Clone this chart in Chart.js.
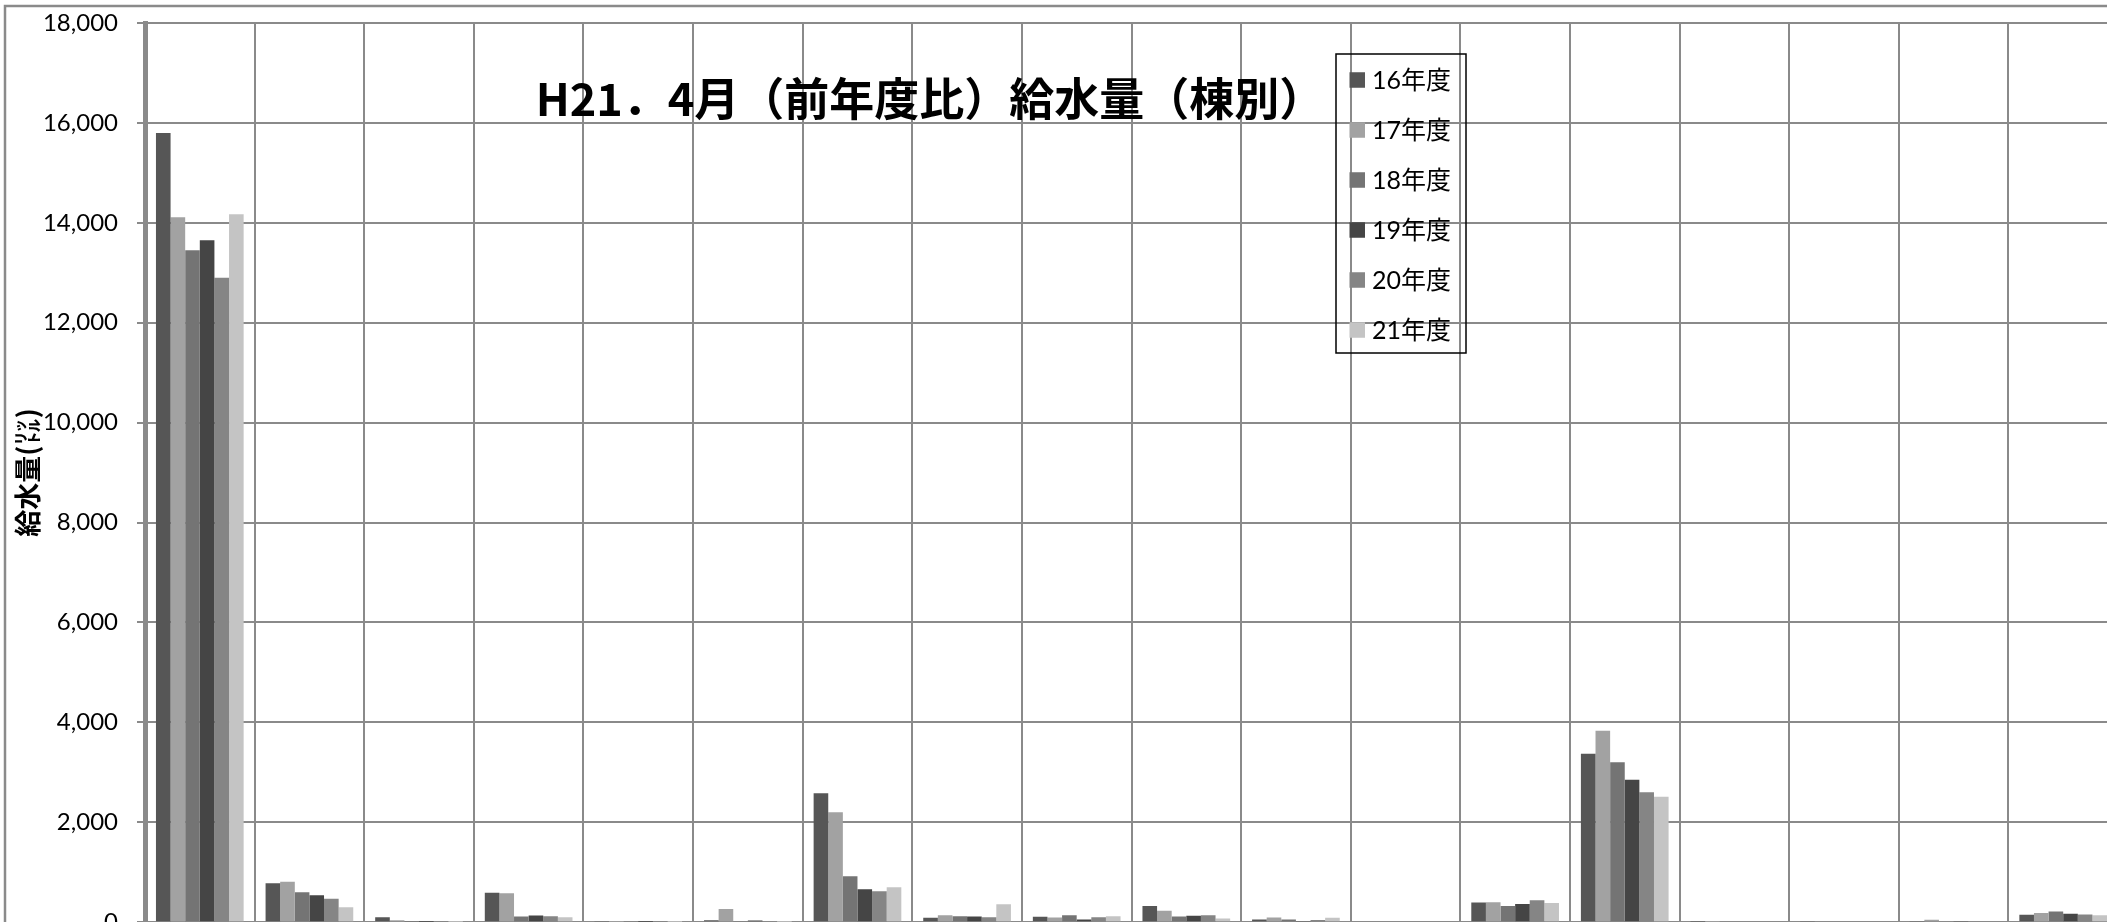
<!DOCTYPE html>
<html>
<head>
<meta charset="utf-8">
<script src="https://cdn.jsdelivr.net/npm/chart.js@4"></script>
<style>
html,body{margin:0;padding:0;overflow:hidden;background:#fff;width:2107px;height:922px;}
#wrap{position:absolute;left:0;top:0;width:2118px;height:1000px;}
canvas{display:block;}
</style>
</head>
<body>
<div id="wrap"><canvas id="c" width="2118" height="1000" style="width:2118px;height:1000px"></canvas></div>
<script>
// ---- data ----
const categories = ['1号棟','2号棟','3号棟','4号棟','5号棟','6号棟','7号棟','8号棟','9号棟','10号棟','11号棟','12号棟','13号棟','14号棟','15号棟','16号棟','17号棟','18号棟'];
const seriesLabels = ['16年度','17年度','18年度','19年度','20年度','21年度'];
const seriesColors = ['#565656','#a2a2a2','#747474','#454545','#858585','#c4c4c4'];
const fy16 = [15800, 780, 100, 590, 15,  40, 2580,  90, 110, 325, 55, 0, 395, 3370, 10, 25, 15, 150];
const fy17 = [14110, 810,  40, 580,  5, 265, 2200, 140,  95, 230, 95, 0, 400, 3830,  5,  0, 50, 185];
const fy18 = [13450, 600,   5, 115, 15,  25,  920, 120, 140, 115, 55, 0, 325, 3200,  0,  0,  0, 215];
const fy19 = [13650, 540,   5, 135,  5,  35,  660, 115,  55, 130, 15, 0, 365, 2850,  0,  0, 25, 170];
const fy20 = [12900, 470,   5, 120,  5,  15,  620, 100, 100, 140, 45, 0, 440, 2600,  0,  0,  0, 155];
const fy21 = [14170, 300,   5, 100,  5,   5,  700, 360, 120,  75, 90, 0, 385, 2510,  0,  0,  0, 140];
const seriesValues = [fy16, fy17, fy18, fy19, fy20, fy21];
const yMin = 0, yMax = 18000, yStep = 2000;
const chartTitle = 'H21．4月（前年度比）給水量（棟別）';
const yAxisTitle = '給水量(㍑)';

Chart.defaults.font.family = "Lato, 'Noto Sans CJK JP', sans-serif";
Chart.defaults.color = '#000';

const framePlugin = {
  id: 'frame',
  beforeDraw(chart) {
    const ctx = chart.ctx;
    ctx.save();
    ctx.fillStyle = '#fff';
    ctx.fillRect(0, 0, chart.width, chart.height);
    ctx.strokeStyle = '#8a8a8a';
    ctx.lineWidth = 2.5;
    ctx.strokeRect(5, 6, chart.width + 20, chart.height + 20);
    ctx.restore();
  }
};

const titlePlugin = {
  id: 'innerTitle',
  afterDraw(chart) {
    const ctx = chart.ctx;
    ctx.save();
    ctx.font = "bold 45px 'Noto Sans CJK JP', sans-serif";
    ctx.fillStyle = '#000';
    ctx.textAlign = 'center';
    ctx.textBaseline = 'middle';
    ctx.fillText(chartTitle, 930, 99);
    ctx.restore();
  }
};

const legendPlugin = {
  id: 'boxLegend',
  afterDraw(chart) {
    const ctx = chart.ctx;
    const x0 = 1336, y0 = 54, w = 130, h = 299;
    ctx.save();
    ctx.strokeStyle = '#000';
    ctx.lineWidth = 1.5;
    ctx.strokeRect(x0, y0, w, h);
    ctx.font = "25px Lato, 'Noto Sans CJK JP', sans-serif";
    ctx.textBaseline = 'middle';
    ctx.textAlign = 'left';
    chart.data.datasets.forEach((ds, i) => {
      const cy = 80 + i * 50;
      ctx.fillStyle = ds.backgroundColor;
      ctx.fillRect(1349.5, cy - 7.75, 15.5, 15.5);
      ctx.fillStyle = '#000';
      ctx.fillText(ds.label, 1372, cy + 1);
    });
    ctx.restore();
  }
};

new Chart(document.getElementById('c'), {
  type: 'bar',
  data: {
    labels: categories,
    datasets: seriesLabels.map((lab, i) => ({
      label: lab,
      data: seriesValues[i],
      backgroundColor: seriesColors[i],
      borderWidth: 0,
      categoryPercentage: 0.8,
      barPercentage: 1.0
    }))
  },
  options: {
    responsive: false,
    devicePixelRatio: 1,
    animation: false,
    layout: { padding: { left: 0, top: 23, right: 0, bottom: 77.8 } },
    plugins: {
      legend: { display: false },
      title: { display: false },
      tooltip: { enabled: false }
    },
    scales: {
      x: {
        type: 'category',
        ticks: { display: false },
        grid: { color: '#8a8a8a', lineWidth: 2, drawTicks: false, offset: true },
        border: { display: true, color: '#8a8a8a', width: 2 },
        afterFit(scale) { scale.height = 0; }
      },
      y: {
        min: yMin, max: yMax,
        ticks: {
          stepSize: yStep,
          padding: 19,
          color: '#000',
          font: { size: 24, family: "Lato, sans-serif" },
          callback: v => Number(v).toLocaleString('en-US')
        },
        grid: { color: '#8a8a8a', lineWidth: 2, tickLength: 8, drawTicks: true },
        border: { display: true, color: '#8a8a8a', width: 5 },
        title: {
          display: true,
          text: yAxisTitle,
          color: '#000',
          font: { size: 27, weight: 'bold', family: "'Noto Sans CJK JP', sans-serif" },
          padding: { top: 12, bottom: 0 }
        },
        afterFit(scale) {
          scale.width = 145;
          scale.paddingTop = 0;
          scale.paddingBottom = 0;
        }
      }
    }
  },
  plugins: [framePlugin, titlePlugin, legendPlugin]
});
</script>
</body>
</html>
